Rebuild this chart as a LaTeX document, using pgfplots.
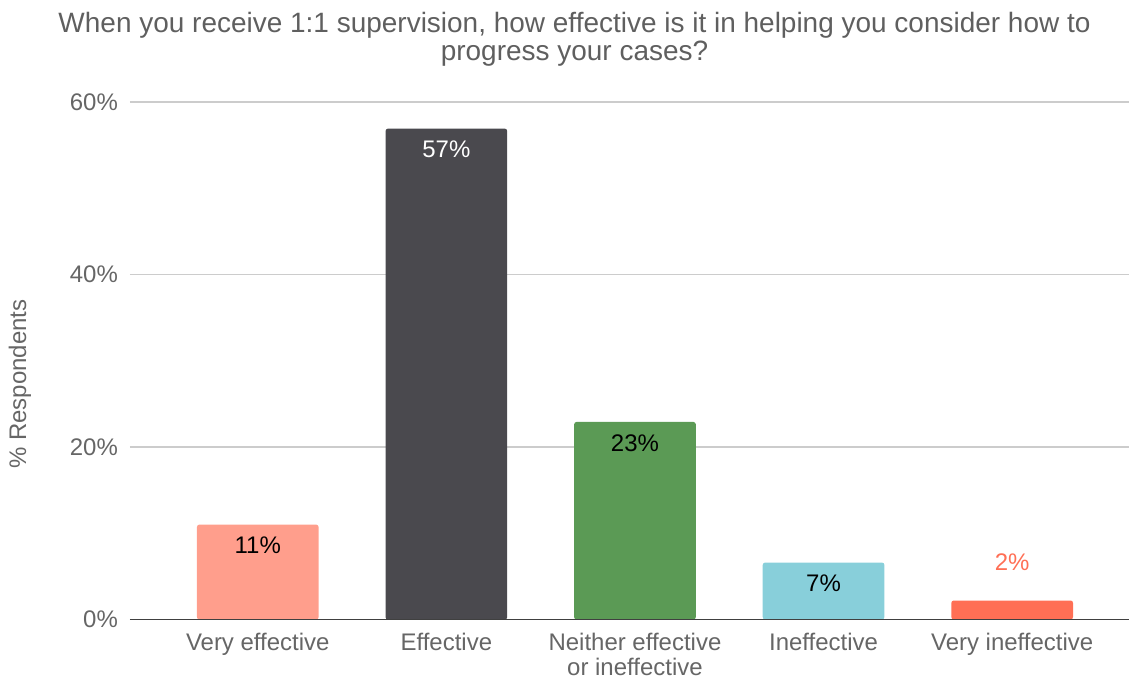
\documentclass[border=0pt]{standalone}
\usepackage{pgfplots}
\pgfplotsset{compat=1.18}
\usepackage{fontspec}
\setmainfont{Liberation Sans}
\definecolor{txtgray}{HTML}{666666}
\definecolor{titlegray}{HTML}{5F5F5F}
\definecolor{gridgray}{HTML}{CCCCCC}
\definecolor{cA}{HTML}{FF9E8C}
\definecolor{cB}{HTML}{4A494E}
\definecolor{cC}{HTML}{5B9A55}
\definecolor{cD}{HTML}{88CFDA}
\definecolor{cE}{HTML}{FF6F55}
\begin{document}
\begin{tikzpicture}
\begin{axis}[
  scale only axis,
  width=500pt, height=259pt,
  xmin=-0.678, xmax=4.62,
  ymin=0, ymax=60,
  ytick={0,20,40,60},
  yticklabel={\pgfmathprintnumber{\tick}\%},
  /pgf/number format/assume math mode=true,
  xtick={0,1,2,3,4},
  xticklabels={Very effective,Effective,{Neither effective\\or ineffective},Ineffective,Very ineffective},
  x tick label style={align=center, text=txtgray, font=\fontsize{12}{12.3}\selectfont, yshift=-3.5pt},
  y tick label style={text=txtgray, font=\fontsize{12}{13}\selectfont, xshift=-2.5pt},
  major tick length=0pt,
  axis line style={draw=none},
  ymajorgrids,
  grid style={color=gridgray, line width=0.75pt},
  ylabel={\% Respondents},
  every axis y label/.style={at={(rel axis cs:0,0.455)}, xshift=-55pt, rotate=90, anchor=center, text=txtgray, font=\fontsize{12}{13}\selectfont},
  ybar, bar width=0.645, bar shift=0pt,
  clip=false,
  nodes near coords={\pgfmathprintnumber[fixed,precision=0]{\pgfplotspointmeta}\%},
  every node near coord/.style={anchor=center, yshift=-10.5pt, font=\fontsize{12}{13}\selectfont, text=black},
]
\addplot[fill=cA, draw=none, rounded corners=1.2pt] coordinates {(0,11.0)};
\addplot[fill=cB, draw=none, rounded corners=1.2pt, every node near coord/.append style={text=white}] coordinates {(1,56.9)};
\addplot[fill=cC, draw=none, rounded corners=1.2pt] coordinates {(2,22.9)};
\addplot[fill=cD, draw=none, rounded corners=1.2pt] coordinates {(3,6.6)};
\addplot[fill=cE, draw=none, rounded corners=1.2pt, every node near coord/.append style={text=cE, yshift=29.5pt}] coordinates {(4,2.2)};
\draw[color=black!75, line width=0.9pt] (rel axis cs:0,0) -- (rel axis cs:1,0);
\coordinate (o) at (rel axis cs:0,0);
\node[text=titlegray, align=center, font=\fontsize{14}{14}\selectfont] at ([yshift=31.5pt]rel axis cs:0.445,1) {When you receive 1:1 supervision, how effective is it in helping you consider how to\\progress your cases?};
\end{axis}
\path (o) ++(-65pt,-28.5pt) rectangle ++(565pt,338.5pt);
\end{tikzpicture}
\end{document}
